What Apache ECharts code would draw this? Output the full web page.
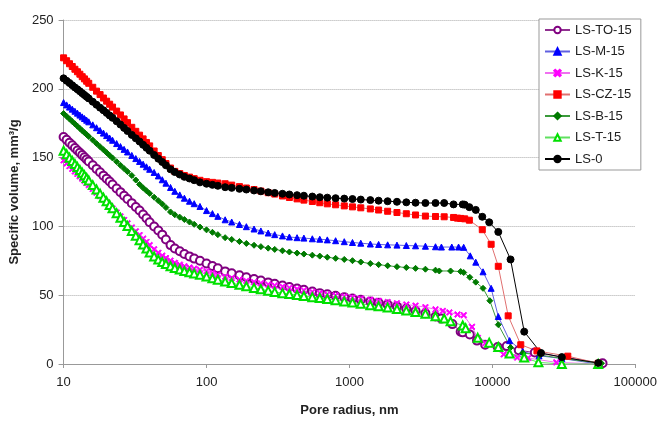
<!DOCTYPE html>
<html>
<head>
<meta charset="utf-8">
<script src="https://cdn.jsdelivr.net/npm/echarts@6/dist/echarts.min.js"></script>
<style>html,body{margin:0;padding:0;background:#fff;}#chart{width:660px;height:422px;}</style>
</head>
<body>
<div id="chart"></div>
<script>
// Pore radius (nm) for the dense part of each curve
const radius = [10, 10.5, 11, 11.5, 12, 12.5, 13, 13.5, 14, 14.5, 15, 16, 17, 18, 19, 20, 21, 22, 23.5, 25, 26.5, 28, 30, 32, 34, 36, 38, 40, 43, 46, 49, 52, 56, 60, 65, 70, 76, 82, 90, 100, 110, 120, 135, 150, 170, 190, 215, 240, 270, 300, 340, 380, 430, 480, 550, 620, 700, 800, 920, 1050, 1200, 1400, 1600, 1850, 2150, 2500, 2900, 3400, 4000];

const seriesNames = ['LS-TO-15', 'LS-M-15', 'LS-K-15', 'LS-CZ-15', 'LS-B-15', 'LS-T-15', 'LS-0'];

// Specific volume, mm3/g
const toVals = [165, 162.9, 160.8, 158.9, 157, 155.2, 153.5, 151.8, 150.2, 148.7, 147.2, 144.4, 141.8, 139.3, 136.9, 134.7, 132.6, 130.5, 127.6, 124.9, 122.3, 119.9, 116.9, 114.1, 111.5, 108.7, 105.9, 103, 99.9, 97, 94, 90.5, 86.4, 84, 81.9, 80, 78.2, 76.6, 75, 73, 71.2, 69.5, 67.3, 66, 64.5, 63.1, 61.7, 60.6, 59.3, 58.3, 57, 56, 54.8, 53.9, 52.6, 51.5, 50.6, 49.6, 48.6, 47.6, 46.7, 45.5, 44.5, 43.2, 41.8, 40.2, 38.7, 36.9, 34.5];
const toTailR = [4400, 5250, 6000, 6200, 6950, 7800, 8900, 10900, 12600, 15300, 19800, 59000];
const toTailV = [33, 29, 23.5, 23, 21.5, 17, 14, 12.4, 13, 10, 8.3, 0.5];

const mVals = [190, 188.3, 186.7, 185.2, 183.7, 182.3, 180.9, 179.6, 178.4, 177.2, 176, 173.8, 171.7, 169.7, 167.8, 166, 164.2, 162.6, 160.2, 158, 156, 154.1, 151.6, 149.3, 147.2, 145.2, 143.3, 141.5, 139.2, 136.7, 133.9, 131.4, 128.3, 125.5, 122.9, 120.5, 118.3, 116.5, 114.5, 111.5, 109.3, 107.3, 104.8, 103.2, 101.4, 99.8, 98.1, 96.7, 95.2, 94, 93.1, 92.3, 91.8, 91.5, 91, 90.7, 90.2, 89.6, 88.9, 88.3, 87.8, 87.2, 86.9, 86.6, 86.4, 86.1, 85.9, 85.6, 85.2];
const mTailR = [4400, 5200, 5800, 6300, 7000, 7650, 8600, 9800, 11000, 13200, 16300, 21200, 30600, 55000];
const mTailV = [85, 85, 85, 84.8, 78.6, 74, 67, 55, 34.5, 17, 9, 6, 4, 0];

const kVals = [148, 145.8, 143.8, 141.8, 139.9, 138.1, 136.4, 134.7, 133.1, 131.5, 130, 127.2, 124.5, 122, 119.6, 117.3, 115.1, 113, 110.1, 107.3, 104.7, 102.3, 99.2, 96.4, 93.7, 91.1, 88.7, 86.4, 83.4, 80.8, 78.7, 77, 75.1, 73.5, 72.2, 71, 70.1, 69.3, 68.5, 67.5, 66.2, 64.9, 63.4, 62.5, 61.4, 60.4, 59.5, 58.6, 57.7, 57, 56.1, 55.3, 54.4, 53.5, 52.4, 51.5, 50.6, 49.8, 49, 48.2, 47.5, 46.7, 45.9, 45, 44.1, 43.2, 42.4, 41.3, 39.7];
const kTailR = [4500, 5000, 5700, 6300, 7200, 7900, 8900, 12000, 14900, 17800, 28000, 55000];
const kTailV = [38.6, 37.5, 36, 35.5, 27, 19, 15, 7, 4.7, 4.3, 1.2, 0];

const czVals = [222.5, 220.4, 218.2, 216.2, 214.2, 212.4, 210.6, 208.8, 207.2, 205.5, 204, 201.1, 198.3, 195.8, 193.3, 191, 188.8, 186.7, 183.8, 181, 178.1, 175.4, 172, 169.1, 166.3, 163.6, 161, 158.5, 154.8, 151.5, 148.5, 145.7, 142.4, 140, 138.4, 137, 135.8, 134.7, 133.5, 132.5, 132, 131.5, 131, 130, 128.9, 127.9, 126.8, 125.7, 124.5, 123.5, 122.1, 121, 120, 119.1, 118.1, 117.2, 116.4, 115.7, 114.9, 114.2, 113.5, 112.7, 111.9, 111, 110.1, 109.2, 108.3, 107.5, 107.2];
const czTailR = [4600, 5350, 5700, 6000, 6400, 6900, 8500, 9800, 11000, 12900, 15800, 20500, 33700, 55000];
const czTailV = [107, 106.5, 106, 105.8, 105.5, 104.5, 97.6, 87, 71, 35, 14, 9.5, 5.7, 0.5];

const bVals = [182, 180, 178.1, 176.2, 174.5, 172.8, 171.2, 169.6, 168.1, 166.7, 165.3, 162.7, 160.2, 157.9, 155.7, 153.6, 151.6, 149.7, 147, 144.4, 142, 139.8, 137, 133.7, 130.5, 128, 125.9, 124, 121.2, 118.7, 116.3, 113.7, 110.5, 108.5, 106.7, 105, 103.2, 101.5, 99.5, 97.5, 95.7, 94, 91.8, 90.5, 89, 87.6, 86.3, 85.3, 84.2, 83.3, 82.3, 81.4, 80.6, 79.9, 79.1, 78.4, 77.6, 76.8, 76, 75.1, 74.1, 73, 72.2, 71.4, 70.7, 70.1, 69.5, 68.9, 68.2];
const bTailR = [4250, 5100, 6000, 6300, 6950, 7650, 8600, 9600, 11000, 13400, 16300, 21500, 31000, 58000];
const bTailV = [67.6, 67.6, 67.2, 66.5, 63, 59.5, 55, 46, 28.6, 12, 8, 6.5, 4, 0.5];

const tVals = [155, 152.4, 149.9, 147.5, 145.3, 143.1, 141, 139, 137.1, 135.2, 133.4, 130, 126.8, 123.8, 120.9, 118.2, 115.6, 113.1, 109.6, 106.3, 103.2, 100.3, 96.6, 93.2, 90, 86.8, 83.9, 81, 78.2, 75.9, 74.1, 72.7, 71.1, 69.8, 68.6, 67.5, 66.6, 65.7, 64.8, 63.5, 62.3, 61.3, 59.9, 58.8, 57.6, 56.5, 55.3, 54.3, 53.3, 52.4, 51.5, 50.8, 50.1, 49.4, 48.6, 48, 47.2, 46.4, 45.5, 44.7, 43.8, 42.7, 41.9, 41, 40, 38.9, 37.8, 36.6, 34.7];
const tTailR = [4600, 5100, 6200, 6500, 7900, 9500, 11000, 13200, 16700, 21000, 30600, 55000];
const tTailV = [33, 31, 28, 26, 19, 15.5, 12.4, 7.6, 4.7, 1.2, 0, 0];

const zeroVals = [207.6, 205.8, 204.2, 202.6, 201, 199.6, 198.2, 196.8, 195.5, 194.2, 193, 190.6, 188.4, 186.3, 184.4, 182.5, 180.6, 178.9, 176.4, 174, 171.6, 169.3, 166.5, 164, 161.7, 159.3, 157.1, 155, 151.9, 149.2, 146.8, 144.4, 141.5, 139.5, 137.7, 136, 134.8, 133.6, 132, 131, 130.2, 129.5, 128.5, 128, 127.3, 126.8, 126.1, 125.5, 124.8, 124.3, 123.7, 123.2, 122.7, 122.3, 121.7, 121.2, 120.9, 120.5, 120.2, 119.9, 119.5, 119.1, 118.7, 118.3, 117.9, 117.5, 117.2, 117, 117];
const zeroTailR = [4600, 5350, 6200, 6400, 6900, 7650, 8500, 9500, 11000, 13400, 16700, 21900, 30600, 55000];
const zeroTailV = [117, 116, 116, 115.8, 114, 112, 107, 103, 96, 76, 23.5, 8, 5, 0.7];

const yTicks = [0, 50, 100, 150, 200, 250];

function pairs(vals, tr, tv) {
  return radius.map((r, i) => [r, vals[i]]).concat(tr.map((r, i) => [r, tv[i]]));
}

const FONT = '"Liberation Sans", Arial, sans-serif';
const xPath = 'path://M0,1.5L1.5,0L5,3.5L8.5,0L10,1.5L6.5,5L10,8.5L8.5,10L5,6.5L1.5,10L0,8.5L3.5,5Z';

const styles = [
  { vals: toVals, tr: toTailR, tv: toTailV, symbol: 'emptyCircle', size: 8, color: '#800080', line: '#903090' },
  { vals: mVals, tr: mTailR, tv: mTailV, symbol: 'triangle', size: 6, color: '#0000ff', line: '#6060e0' },
  { vals: kVals, tr: kTailR, tv: kTailV, symbol: xPath, size: 6, color: '#ff00ff', line: '#f070f0' },
  { vals: czVals, tr: czTailR, tv: czTailV, symbol: 'rect', size: 6, color: '#ff0000', line: '#e07070' },
  { vals: bVals, tr: bTailR, tv: bTailV, symbol: 'diamond', size: 6, color: '#007a00', line: '#3a9a3a' },
  { vals: tVals, tr: tTailR, tv: tTailV, symbol: 'emptyTriangle', size: 8, color: '#00e000', line: '#60e060' },
  { vals: zeroVals, tr: zeroTailR, tv: zeroTailV, symbol: 'circle', size: 7, color: '#000000', line: '#000000' }
];

const series = styles.map((s, i) => ({
  name: seriesNames[i],
  type: 'line',
  data: pairs(s.vals, s.tr, s.tv),
  symbol: s.symbol,
  symbolSize: s.size,
  showSymbol: true,
  itemStyle: { color: s.color, borderColor: s.color, borderWidth: 1 },
  lineStyle: { color: s.line, width: 1 },
  emphasis: { disabled: true },
  animation: false
}));

const chart = echarts.init(document.getElementById('chart'), null, { renderer: 'canvas' });
chart.setOption({
  backgroundColor: '#ffffff',
  animation: false,
  textStyle: { fontFamily: FONT },
  grid: { left: 63, right: 21, top: 20, bottom: 50 },
  legend: {
    orient: 'vertical',
    left: 539,
    top: 19,
    padding: [4, 9, 4, 5],
    itemWidth: 25,
    itemHeight: 8,
    itemGap: 7.5,
    borderColor: '#999999',
    borderWidth: 1,
    backgroundColor: '#ffffff',
    textStyle: { fontSize: 13, color: '#222222', fontFamily: FONT, lineHeight: 14 },
    data: seriesNames
  },
  xAxis: {
    type: 'log',
    logBase: 10,
    min: 10,
    max: 100000,
    name: 'Pore radius, nm',
    nameLocation: 'middle',
    nameGap: 40,
    nameTextStyle: { fontSize: 13, fontWeight: 'bold', color: '#222222', fontFamily: FONT },
    axisLine: { lineStyle: { color: '#999999', width: 1 } },
    axisTick: { show: true, length: 4, lineStyle: { color: '#999999' } },
    minorTick: { show: false },
    axisLabel: { fontSize: 13, color: '#222222', margin: 12, formatter: v => String(Math.round(v)) },
    splitLine: { show: false }
  },
  yAxis: {
    type: 'value',
    min: yTicks[0],
    max: yTicks[yTicks.length - 1],
    interval: 50,
    name: 'Specific volume, mm³/g',
    nameLocation: 'middle',
    nameGap: 41,
    nameTextStyle: { fontSize: 13, fontWeight: 'bold', color: '#222222', fontFamily: FONT },
    axisLine: { show: true, lineStyle: { color: '#999999', width: 1 } },
    axisTick: { show: true, length: 5, lineStyle: { color: '#999999' } },
    axisLabel: { fontSize: 13, color: '#222222', margin: 10 },
    splitLine: { show: true, lineStyle: { color: '#aaaaaa', type: 'dotted', width: 1 } }
  },
  series: series
});
</script>
</body>
</html>
